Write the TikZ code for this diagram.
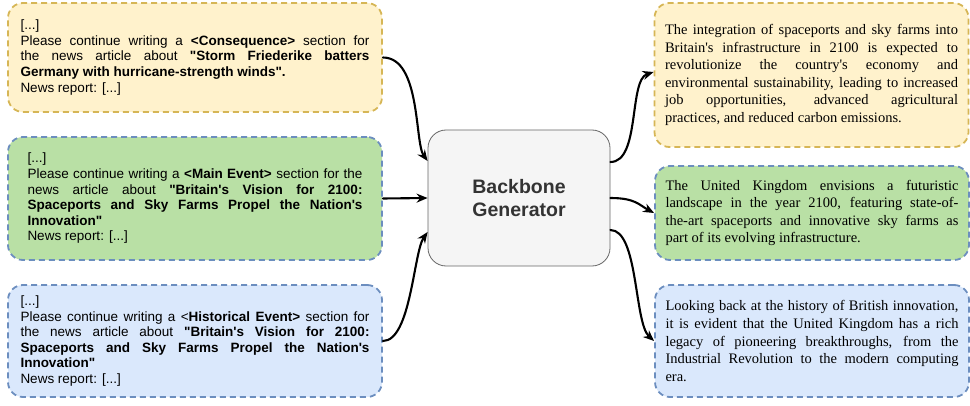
\documentclass[tikz,border=0pt]{standalone}
\usepackage{fontspec}
\usetikzlibrary{arrows.meta}
\newfontfamily\promptfont[Ligatures=TeXOff]{Liberation Sans}
\newfontfamily\outfont[Ligatures=TeXOff]{Liberation Serif}
\definecolor{yelfill}{HTML}{FFF2CC}
\definecolor{yeldraw}{HTML}{D6B656}
\definecolor{grnfill}{HTML}{B9E0A5}
\definecolor{blufill}{HTML}{DAE8FC}
\definecolor{bludraw}{HTML}{6C8EBF}
\definecolor{genfill}{HTML}{F5F5F5}
\definecolor{gendraw}{HTML}{666666}
\definecolor{gentext}{HTML}{333333}

\begin{document}
\begin{tikzpicture}[line join=round,x=1.0pt,y=1.0pt,
	card/.style={rectangle,rounded corners=15pt,line width=1.8pt,dash pattern=on 6pt off 4pt,inner sep=0pt,align=justify},
	prompt/.style={card,minimum width=374pt,font=\promptfont\fontsize{13.5}{15.6}\selectfont},
	reply/.style={card,minimum width=314pt,text width=293pt,font=\outfont\fontsize{14.5}{17.6}\selectfont},
	flow/.style={line width=2.1pt,line cap=round,-{Stealth[length=11pt,width=9pt]}}]
			\useasboundingbox (0,0) rectangle (970,405);
			% prompts
			\node[prompt,fill=yelfill,draw=yeldraw,minimum height=109pt,text width=349pt] (conseq) at (195,347.5) {[...]\\
				Please continue writing a \textbf{<Consequence>} section for\linebreak
				the news article about \textbf{"Storm Friederike batters\linebreak
				Germany with hurricane-strength winds".}\\
				News report: [...]};
			\node[prompt,fill=grnfill,draw=bludraw,minimum height=123pt,text width=335pt] (mainev) at (195,206.5) {[...]\\
				Please continue writing a \textbf{<Main Event>} section for the\linebreak
				news article about \textbf{"Britain's Vision for 2100:\linebreak
				Spaceports and Sky Farms Propel the Nation's\linebreak
				Innovation"}\\
				News report: [...]};
			\node[prompt,fill=blufill,draw=bludraw,minimum height=112pt,text width=349pt] (histev) at (195,64) {[...]\\
				Please continue writing a <\textbf{Historical Event>} section for\linebreak
				the news article about \textbf{"Britain's Vision for 2100:\linebreak
				Spaceports and Sky Farms Propel the Nation's\linebreak
				Innovation"}\\
				News report: [...]};
			% generator
			\node[rectangle,rounded corners=18pt,fill=genfill,draw=gendraw,line width=0.8pt,minimum width=182pt,minimum height=136pt,align=center,text=gentext,font=\promptfont\bfseries\fontsize{19.5}{23.3}\selectfont] (gen) at (519,207) {Backbone\\Generator};
			% outputs
			\node[reply,fill=yelfill,draw=yeldraw,minimum height=144pt] (conseqout) at (811.5,330) {The integration of spaceports and sky farms into\linebreak
				Britain's infrastructure in 2100 is expected to\linebreak
				revolutionize the country's economy and\linebreak
				environmental sustainability, leading to increased\linebreak
				job opportunities, advanced agricultural\linebreak
				practices, and reduced carbon emissions.};
			\node[reply,fill=grnfill,draw=bludraw,minimum height=94pt] (mainevout) at (812,192) {The United Kingdom envisions a futuristic\linebreak
				landscape in the year 2100, featuring state-of-\linebreak
				the-art spaceports and innovative sky farms as\linebreak
				part of its evolving infrastructure.};
			\node[reply,fill=blufill,draw=bludraw,minimum height=112pt] (histevout) at (812,64) {Looking back at the history of British innovation,\linebreak
				it is evident that the United Kingdom has a rich\linebreak
				legacy of pioneering breakthroughs, from the\linebreak
				Industrial Revolution to the modern computing\linebreak
				era.};
			% connectors
			\draw[flow] (conseq.east) .. controls +(38,0) and +(-13,18) .. ([yshift=37pt]gen.west);
			\draw[flow] (mainev.east) -- (gen.west);
			\draw[flow] (histev.east) .. controls +(28,0) and +(-14,-20) .. ([yshift=-34pt]gen.west);
			\draw[flow] ([yshift=36pt]gen.east) .. controls +(30,0) and +(-25,-8) .. ([yshift=3pt]conseqout.west);
			\draw[flow] (gen.east) .. controls +(25,0) and +(-15,8) .. (mainevout.west);
			\draw[flow] ([yshift=-32pt]gen.east) .. controls +(28,0) and +(-20,18) .. (histevout.west);
\end{tikzpicture}
\end{document}
